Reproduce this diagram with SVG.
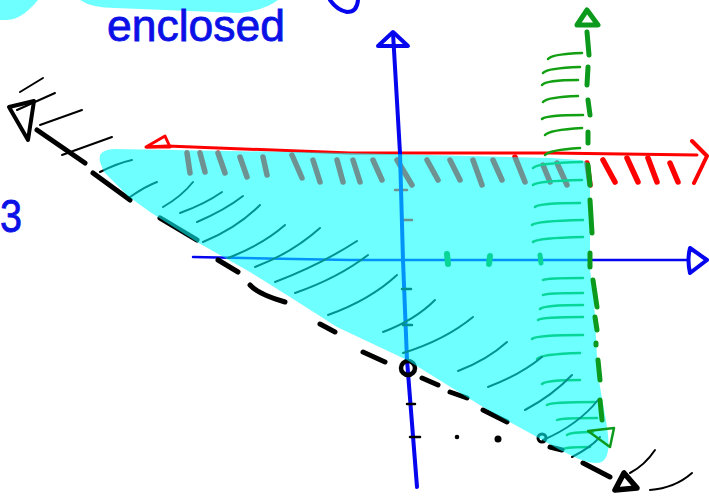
<svg xmlns="http://www.w3.org/2000/svg" width="709" height="496" viewBox="0 0 709 496">
<style>
.k{stroke:#000;fill:none;stroke-linecap:round;stroke-linejoin:round}
.kd{stroke-width:5}
.kh{stroke-width:2}
.r{stroke:#ff0000;fill:none;stroke-linecap:round;stroke-linejoin:round}
.rh{stroke-width:5.5}
.b{stroke:#0505ee;fill:none;stroke-linecap:round;stroke-linejoin:round}
.g{stroke:#12a012;fill:none;stroke-linecap:round;stroke-linejoin:round}
.gh{stroke-width:2.5}
.gd{stroke:#0c9a1c;stroke-width:5}
.ov{fill:#00ffff;fill-opacity:0.57}
.t{font-family:"Liberation Sans",Arial,sans-serif;fill:#0a10e6;stroke:#0a10e6;stroke-width:0.8}
</style>
<rect width="709" height="496" fill="#fff"/>
<g id="top-blobs">
<path class="ov" d="M0,0 L38,0 C30,9 20,20 6,20 L0,20 Z"/>
<path class="ov" d="M80,0 Q92,8 115,8 L240,13 Q265,10 278,0 Z"/>
</g>
<g id="labels">
<text class="t" x="107" y="41" font-size="44" textLength="178" lengthAdjust="spacingAndGlyphs">enclosed</text>
<text class="t" x="0" y="232" font-size="46" textLength="22" lengthAdjust="spacingAndGlyphs">3</text>
<path class="b" stroke-width="4" d="M330,0 Q337,10 347,12 Q357,12 358,0"/>
</g>
<g id="connectors">
<g id="red-line" class="r">
<path stroke-width="3" d="M147,147 L167,146 L350,153 L550,153 L697,155"/>
<path stroke-width="3" d="M146,147 L165,136 L170,147 Z"/>
<path stroke-width="4" d="M692,141 L707,156 L694,183"/>
<g class="rh">
<path d="M187,153 L190,173"/><path d="M200,153 L205,172"/><path d="M218,153 L225,173"/>
<path d="M240,157 L247,177"/><path d="M263,157 L267,175"/><path d="M292,155 L302,178"/>
<path d="M313,160 L320,182"/><path d="M337,160 L343,182"/><path d="M353,160 L360,182"/>
<path d="M373,160 L382,180"/><path d="M397,160 L412,185"/><path d="M427,160 L438,180"/>
<path d="M450,160 L460,180"/><path d="M473,160 L482,185"/><path d="M493,160 L502,180"/>
<path d="M515,157 L525,182"/><path d="M543,165 L550,182"/><path d="M557,163 L567,185"/>
<path d="M603,160 L615,182"/><path d="M627,158 L638,182"/><path d="M648,158 L657,182"/>
<path d="M670,163 L678,182"/><path d="M587,163 L590,185"/>
</g>
<path stroke-width="2.5" d="M395,190 L407,190"/><path stroke-width="2.5" d="M402,220 L412,220"/>
</g>
<g id="blue-axes" class="b">
<path stroke-width="4" d="M393,33 L400,153 L403,260 L407,360 L417,487"/>
<path stroke-width="4" d="M378,46 L393,32 L408,46 Z"/>
<path stroke-width="2.5" d="M193,257 L350,260 L590,260 L688,260"/>
<path stroke-width="4" d="M690,248 L707,260 L690,273 Q687,260 690,248 Z"/>
</g>
<g id="green-hatches" class="g gh">
<path d="M548,59 Q552,54 582,53"/><path d="M543,73 Q547,68 580,67"/><path d="M542,85 Q546,80 578,80"/>
<path d="M543,102 Q547,97 578,96"/><path d="M542,119 Q546,115 583,115"/><path d="M545,135 Q549,130 582,128"/>
<path d="M545,155 Q549,150 580,148"/><path d="M533,168 Q537,163 582,162"/><path d="M533,185 Q537,181 582,180"/>
<path d="M535,207 Q539,203 580,203"/><path d="M532,225 Q536,221 583,220"/><path d="M533,242 Q537,238 583,237"/>
<path d="M543,280 Q547,278 583,278"/><path d="M543,295 Q547,293 583,293"/><path d="M540,309 Q544,305 583,305"/>
<path d="M538,320 Q542,317 583,317"/><path d="M532,339 Q536,335 583,335"/><path d="M537,359 Q541,354 580,353"/>
<path d="M542,384 Q546,380 580,380"/><path d="M547,405 Q551,402 595,402"/><path d="M557,420 Q561,418 597,418"/>
<path d="M567,435 Q571,432 593,432"/><path d="M563,449 Q567,447 590,447"/>
<path stroke-width="6" d="M447,254 L448,264"/><path stroke-width="6" d="M490,256 L489,264"/><path stroke-width="5" d="M540,255 L541,263"/>
</g>
<g id="black-line" class="k">
<g class="kd">
<path stroke-width="4" d="M9,107 L34,101 L28,140 Z"/>
<path d="M37,130 L85,163"/><path d="M93,173 L130,200"/><path d="M160,218 L197,240"/>
<path d="M218,260 L238,272"/><path d="M250,285 Q258,294 285,302"/><path d="M320,324 L335,332"/>
<path d="M363,352 L385,362"/><path d="M422,378 L438,385"/><path d="M450,392 L467,398"/>
<path d="M483,410 L507,422"/><path d="M550,447 L562,450"/><path d="M583,463 L610,477"/>
<path stroke-width="5.5" d="M624,473 L615,490 L637,488 Z"/>
<circle cx="408" cy="368" r="7" stroke-width="4.5"/>
<circle cx="542" cy="438" r="4" stroke-width="3"/>
</g>
<g class="kh">
<path d="M20,92 L43,78"/><path d="M17,110 L55,93"/><path d="M40,125 L82,110"/><path d="M62,155 L112,137"/>
<path d="M655,450 Q645,465 630,473"/><path d="M692,473 Q675,488 650,490"/>
<path stroke-width="2.5" d="M403,325 L412,325"/><path stroke-width="2.5" d="M402,289 L411,289"/>
<path stroke-width="2.5" d="M407,404 L415,404"/><path stroke-width="2.5" d="M410,437 L420,437"/>
<circle cx="457" cy="437" r="1.3" fill="#000"/><circle cx="498" cy="439" r="2.5" fill="#000"/>
<path d="M100,172 Q118,163 132,160"/><path d="M130,197 Q146,186 157,182"/>
<path d="M163,207 Q182,196 193,182"/><path d="M180,213 Q205,204 222,192"/>
<path d="M197,222 Q225,210 243,196"/><path d="M203,242 Q237,228 260,205"/>
<path d="M228,258 Q262,245 285,225"/><path d="M255,267 Q292,253 320,228"/>
<path d="M275,282 Q320,265 357,241"/><path d="M295,293 Q338,278 368,255"/>
<path d="M328,315 Q370,300 397,275"/><path d="M383,332 Q415,320 435,300"/>
<path d="M403,353 Q445,340 473,317"/><path d="M458,371 Q487,360 507,342"/>
<path d="M488,387 Q520,375 542,357"/><path d="M525,410 Q553,395 572,375"/>
<path d="M543,440 Q578,425 598,400"/><path d="M572,457 Q590,448 600,437"/>
</g>
</g>
</g>
<g id="enclosed-region">
<path class="ov" d="M100,162 C98,152 104,150 115,149 L350,153 L550,158 L580,160 C588,161 590,166 590,175 L590,270 L594,300 L598,375 L604,410 C610,440 612,462 597,463 C585,463 575,457 560,450 L537,437 L483,407 L407,360 L337,327 L290,297 L250,272 L197,242 L150,212 L128,196 L104,172 Z"/>
</g>
<g id="green-line" class="g">
<path class="gd" stroke-width="4" d="M577,25 L587,10 L598,25 Z"/>
<g class="gd">
<path d="M587,32 L589,55"/><path d="M588,67 L587,85"/><path d="M588,100 L590,115"/><path d="M588,132 L588,143"/>
<path d="M588,165 L590,185"/><path d="M590,200 L592,233"/><path d="M590,253 L590,267"/><path d="M593,280 L597,307"/>
<path d="M595,317 L597,330"/><path d="M596,343 L596,345"/><path d="M598,360 L600,380"/><path d="M600,400 L602,420"/>
</g>
<path stroke="#0c9a1c" stroke-width="2.5" d="M588,431 L614,428 L610,447 Z"/>
</g>
</svg>
